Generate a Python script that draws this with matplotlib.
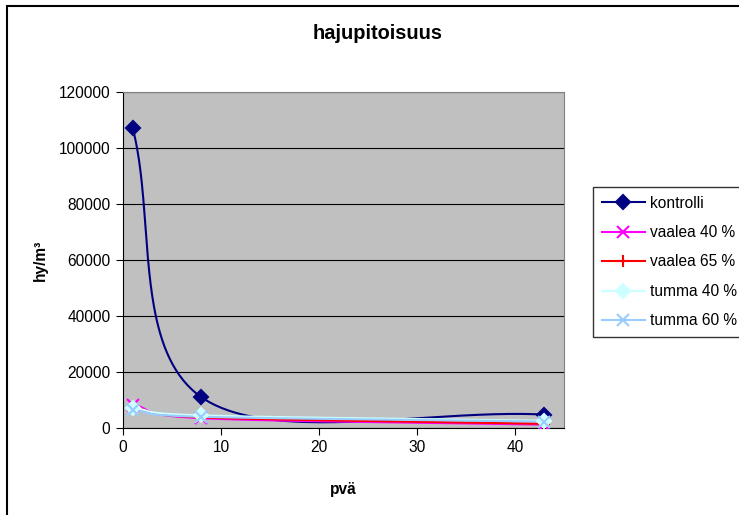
import numpy as np
import matplotlib
matplotlib.use("Agg")
import matplotlib.pyplot as plt
from matplotlib.patches import Rectangle

plt.rcParams['font.family'] = ['Liberation Sans', 'DejaVu Sans']

# Measurement days and odour concentrations (hy/m3)
days = [1, 8, 43]
kontrolli = [107000, 11000, 4800]
vaalea_40 = [8300, 3500, 1200]
vaalea_65 = [7500, 3800, 1500]
tumma_40 = [7200, 4500, 2600]
tumma_60 = [6300, 4000, 2300]

series_names = ["kontrolli", "vaalea 40 %", "vaalea 65 %", "tumma 40 %", "tumma 60 %"]
series_values = [kontrolli, vaalea_40, vaalea_65, tumma_40, tumma_60]
colors = ["#000080", "#FF00FF", "#FF0000", "#CCFFFF", "#99CCFF"]
markers = ["D", "x", "+", "D", "x"]

FS = 11.2


def smooth(xs, ys, n=80, inner=1 / 6, end=1 / 3):
    """Bezier smoothing through the points (Catmull-Rom tangents inside,
    chord-directed tangents at both ends)."""
    pts = np.column_stack([xs, ys]).astype(float)
    m = len(pts)
    out = []
    for i in range(m - 1):
        p1 = pts[i]
        p2 = pts[i + 1]
        if i == 0:
            c1 = p1 + (p2 - p1) * end
        else:
            c1 = p1 + (p2 - pts[i - 1]) * inner
        if i + 2 >= m:
            c2 = p2 - (p2 - p1) * end
        else:
            c2 = p2 - (pts[i + 2] - p1) * inner
        t = np.linspace(0, 1, n)[:, None]
        seg = ((1 - t) ** 3) * p1 + 3 * ((1 - t) ** 2) * t * c1 \
            + 3 * (1 - t) * t ** 2 * c2 + t ** 3 * p2
        out.append(seg if i == 0 else seg[1:])
    arr = np.vstack(out)
    return arr[:, 0], arr[:, 1]


fig = plt.figure(figsize=(7.39, 5.15), dpi=100)
ax = fig.add_axes([123 / 739, 1 - 428 / 515, (564 - 123) / 739, (428 - 92) / 515])

ax.set_facecolor("#C0C0C0")
ax.set_xlim(0, 45)
ax.set_ylim(0, 120000)
ax.set_yticks(np.arange(0, 120001, 20000))
ax.set_xticks([0, 10, 20, 30, 40])
ax.yaxis.grid(True, color="black", linewidth=0.8)
ax.set_axisbelow(True)

handles = []
for name, vals, col, mk in zip(series_names, series_values, colors, markers):
    sx, sy = smooth(days, vals)
    ms = 7 if mk == "D" else 8
    ax.plot(sx, sy, color=col, linewidth=1.5, zorder=3)
    ax.plot(days, vals, linestyle="none", marker=mk, color=col,
            markersize=ms, markeredgewidth=1.5, zorder=4)
    h, = ax.plot([], [], color=col, linewidth=1.5, marker=mk,
                 markersize=ms, markeredgewidth=1.5)
    handles.append(h)

for side in ["top", "right"]:
    ax.spines[side].set_color("#808080")
for side in ["left", "bottom"]:
    ax.spines[side].set_color("black")
ax.tick_params(axis="both", direction="out", length=5, labelsize=FS,
               color="black", pad=4)

# Chart title is centred over the whole chart area
fig.text(378 / 739, 1 - 39 / 515, "hajupitoisuus", fontsize=14.4,
         fontweight="bold", ha="center", va="baseline")
ax.set_ylabel("hy/m³", fontsize=FS, fontweight="bold", labelpad=8)
ax.set_xlabel("pvä", fontsize=FS, fontweight="bold", labelpad=19)

leg = fig.legend(handles=handles, labels=series_names, loc="upper left",
                 bbox_to_anchor=(593 / 739, 1 - 187 / 515), fontsize=FS,
                 frameon=True, fancybox=False, handlelength=2.8,
                 labelspacing=0.93, borderpad=0.55, handletextpad=0.32,
                 borderaxespad=0)
leg.get_frame().set_edgecolor("black")
leg.get_frame().set_linewidth(1.0)

# Outer chart frame
fig.patches.append(Rectangle((7 / 739, -0.05), 1.1, 1 - 6 / 515 + 0.05,
                             transform=fig.transFigure, fill=False,
                             edgecolor="black", linewidth=1.5))

fig.savefig("out.png", dpi=100)
